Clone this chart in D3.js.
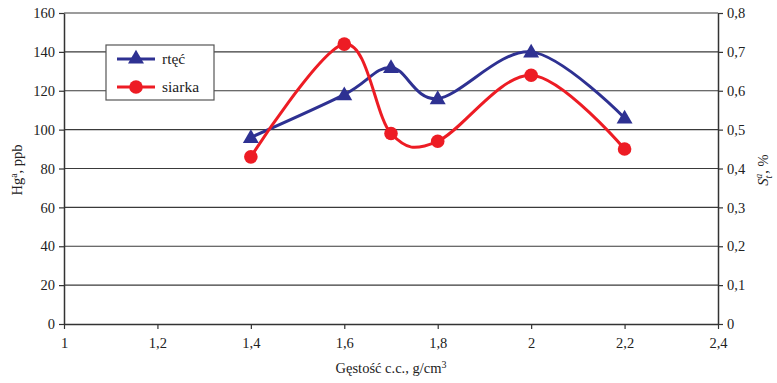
<!DOCTYPE html>
<html><head><meta charset="utf-8">
<script src="https://cdn.jsdelivr.net/npm/d3@7"></script>
<style>body{margin:0;background:#fff}svg{display:block}text{font-family:"Liberation Serif","Times New Roman",serif;fill:#222}</style>
</head><body><svg id="c" width="777" height="383"></svg>
<script>
const density = [1.4, 1.6, 1.7, 1.8, 2.0, 2.2];
const mercury = [96, 118, 132, 116, 140, 106];
const sulfur = [0.43, 0.72, 0.49, 0.47, 0.64, 0.45];
const xTicks = [1, 1.2, 1.4, 1.6, 1.8, 2, 2.2, 2.4];
const yLeftTicks = [0, 20, 40, 60, 80, 100, 120, 140, 160];
const yRightTicks = [0, 0.1, 0.2, 0.3, 0.4, 0.5, 0.6, 0.7, 0.8];
const seriesNames = ["rtęć", "siarka"];

const svg = d3.select("#c");
const L = 64, R = 718, T = 13, B = 324;
const x = d3.scaleLinear().domain([1, 2.4]).range([L, R]);
const yL = d3.scaleLinear().domain([0, 160]).range([B, T]);
const yR = d3.scaleLinear().domain([0, 0.8]).range([B, T]);
const fmt = d => String(d).replace(".", ",");
const blue = "#2e3192", red = "#ed1c24", axisCol = "#333";

// gridlines
svg.append("g").selectAll("line").data(yLeftTicks.filter(d => d > 0)).join("line")
  .attr("x1", L).attr("x2", R).attr("y1", d => yL(d)).attr("y2", d => yL(d))
  .attr("stroke", "#3a3a3a").attr("stroke-width", 1.2);

// axes
function styleAxis(g) {
  g.select(".domain").attr("stroke", axisCol).attr("stroke-width", 1.5);
  g.selectAll(".tick line").attr("stroke", axisCol).attr("stroke-width", 1.2);
  g.selectAll("text").attr("font-size", 14.5).attr("font-family", "Liberation Serif").attr("fill", "#222");
}
svg.append("g").attr("transform", `translate(0,${B})`)
  .call(d3.axisBottom(x).tickValues(xTicks).tickFormat(fmt).tickSizeInner(5).tickSizeOuter(0).tickPadding(9))
  .call(styleAxis);
svg.append("g").attr("transform", `translate(${L},0)`)
  .call(d3.axisLeft(yL).tickValues(yLeftTicks).tickFormat(fmt).tickSizeInner(5).tickSizeOuter(0).tickPadding(4))
  .call(styleAxis);
svg.append("g").attr("transform", `translate(${R},0)`)
  .call(d3.axisRight(yR).tickValues(yRightTicks).tickFormat(fmt).tickSizeInner(5).tickSizeOuter(0).tickPadding(4))
  .call(styleAxis);

// lines
const curve = d3.curveCardinal.tension(0);
const mData = density.map((d, i) => [d, mercury[i]]);
const sData = density.map((d, i) => [d, sulfur[i]]);
svg.append("path").datum(mData)
  .attr("d", d3.line().x(d => x(d[0])).y(d => yL(d[1])).curve(curve))
  .attr("fill", "none").attr("stroke", blue).attr("stroke-width", 3);
svg.append("path").datum(sData)
  .attr("d", d3.line().x(d => x(d[0])).y(d => yR(d[1])).curve(curve))
  .attr("fill", "none").attr("stroke", red).attr("stroke-width", 3);

const tri = d3.symbol().type(d3.symbolTriangle).size(110);
svg.append("g").selectAll("path").data(mData).join("path")
  .attr("d", tri).attr("transform", d => `translate(${x(d[0])},${yL(d[1]) + 1})`).attr("fill", blue);
svg.append("g").selectAll("circle").data(sData).join("circle")
  .attr("cx", d => x(d[0])).attr("cy", d => yR(d[1])).attr("r", 6.8).attr("fill", red);

// legend
const lg = svg.append("g");
lg.append("rect").attr("x", 106).attr("y", 45).attr("width", 108).attr("height", 55)
  .attr("fill", "#fff").attr("stroke", "#555").attr("stroke-width", 1.2);
const lgCols = [blue, red];
seriesNames.forEach((n, i) => {
  const yy = 59 + i * 28;
  lg.append("line").attr("x1", 117).attr("x2", 155).attr("y1", yy).attr("y2", yy).attr("stroke", lgCols[i]).attr("stroke-width", 3);
  if (i === 0) lg.append("path").attr("d", tri).attr("transform", `translate(136,${yy})`).attr("fill", blue);
  else lg.append("circle").attr("cx", 136).attr("cy", yy).attr("r", 6.8).attr("fill", red);
  lg.append("text").attr("x", 162).attr("y", yy + 5).attr("font-size", 15.5).text(n);
});

// axis titles
const lt = svg.append("text").attr("transform", "translate(22,170) rotate(-90)").attr("text-anchor", "middle").attr("font-size", 14.5);
lt.append("tspan").text("Hg");
lt.append("tspan").attr("dy", -5).attr("font-size", 10).text("a");
lt.append("tspan").attr("dy", 5).text(", ppb");

const rt = svg.append("text").attr("transform", "translate(768,170) rotate(-90)").attr("text-anchor", "middle").attr("font-size", 14.5);
rt.append("tspan").attr("font-style", "italic").text("S");
rt.append("tspan").attr("font-style", "italic").attr("font-size", 10).attr("dy", 4).text("t");
rt.append("tspan").attr("font-style", "italic").attr("font-size", 10).attr("dy", -10).attr("dx", -3).text("a");
rt.append("tspan").attr("dy", 6).text(", %");

const xt = svg.append("text").attr("x", 391).attr("y", 373).attr("text-anchor", "middle").attr("font-size", 14.5);
xt.append("tspan").text("Gęstość c.c., g/cm");
xt.append("tspan").attr("dy", -5).attr("font-size", 10).text("3");
</script></body></html>
